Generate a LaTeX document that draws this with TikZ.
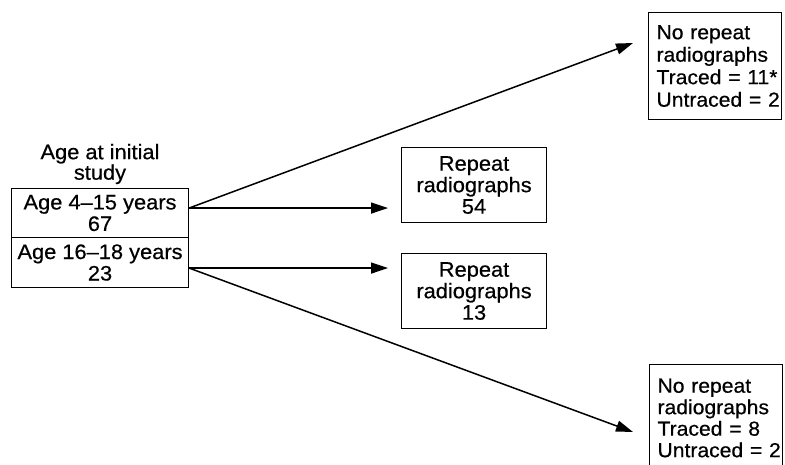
\documentclass[tikz,border=0pt]{standalone}
\usepackage{fontspec}
\setmainfont{Liberation Sans}[FakeStretch=1.04, FakeBold=0.5]
\usetikzlibrary{arrows.meta}
\begin{document}
\begin{tikzpicture}[x=1pt,y=-1pt,
  txt/.style={font=\fontsize{21}{21.5}\selectfont, inner sep=0pt},
  box/.style={txt, draw, line width=1.1pt, align=center, anchor=north west},
  rbox/.style={box, align=left, text width=117pt, inner xsep=8pt, anchor=north west, minimum height=107pt},
  arr/.style={line width=1.5pt, -{Triangle[length=17pt,width=11pt]}}]
\useasboundingbox (0,0) rectangle (785,464);
\fill[white] (0,0) rectangle (785,464);
\clip (0,0) rectangle (785,464);
\node[txt, align=center, font=\fontsize{21}{20.5}\selectfont] (title) at (100,164) {Age at initial\\study};
\node[box, minimum width=177pt, minimum height=49pt] (a1) at (11,188) {Age 4–15 years\\67};
\node[box, minimum width=177pt, minimum height=50pt] (a2) at (11,237) {Age 16–18 years\\23};
\node[box, minimum width=145pt, minimum height=75pt] (r1) at (401,147) {Repeat\\radiographs\\54};
\node[box, minimum width=145pt, minimum height=75pt] (r2) at (401,253) {Repeat\\radiographs\\13};
\node[rbox, font=\fontsize{20.3}{22.5}\selectfont] (n1) at (648,12) {\mbox{No repeat}\\\mbox{radiographs}\\\mbox{Traced = 11*}\\\mbox{Untraced = 2}};
\node[rbox, font=\fontsize{20.3}{21.5}\selectfont] (n2) at (649,364) {\mbox{No repeat}\\\mbox{radiographs}\\\mbox{Traced = 8}\\\mbox{Untraced = 2}};
\coordinate (s1) at ([yshift=5pt]a1.east);
\coordinate (s2) at ([yshift=-5.5pt]a2.east);
\coordinate (t1) at (633,43);
\coordinate (t2) at (633,432);
\draw[arr, shorten >=13pt] (s1) -- (s1 -| r1.west);
\draw[arr, shorten >=13pt] (s2) -- (s2 -| r2.west);
\draw[arr] (s1) -- (t1);
\draw[arr] (s2) -- (t2);
\end{tikzpicture}
\end{document}
